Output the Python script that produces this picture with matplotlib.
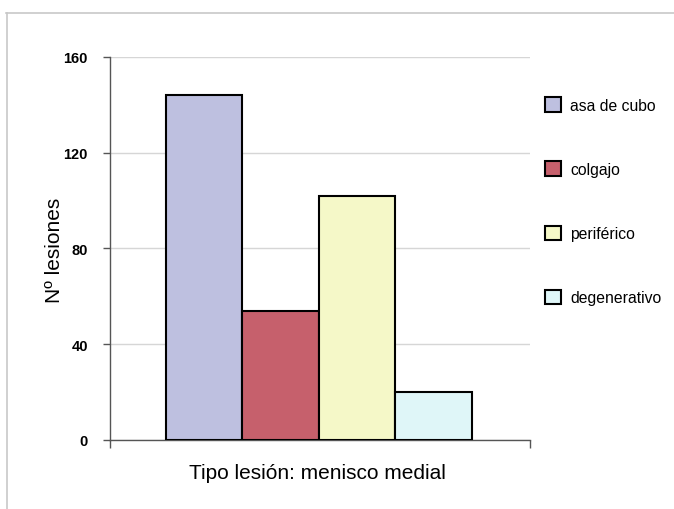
import matplotlib
matplotlib.use("Agg")
import matplotlib.pyplot as plt
from matplotlib.lines import Line2D
import numpy as np

# Lesion types of the medial meniscus and their counts
categories = ["asa de cubo", "colgajo", "periférico", "degenerativo"]
counts = [144, 54, 102, 20]
colors = ["#BEC0E0", "#C6606C", "#F5F8C8", "#DFF6F8"]
y_ticks = [0, 40, 80, 120, 160]

narrow = ["Liberation Sans Narrow", "Liberation Sans", "DejaVu Sans"]
sans = ["Liberation Sans", "DejaVu Sans"]

fig = plt.figure(figsize=(6.74, 5.10), dpi=100)
ax = fig.add_axes([110 / 674, 1 - 441 / 510, 420 / 674, 383 / 510])

x = np.arange(len(categories))
bars = ax.bar(x, counts, width=1.0, color=colors, edgecolor="black",
              linewidth=1.5, zorder=3)

ax.set_xlim(-1.23, 4.26)
ax.set_ylim(0, 160)
ax.set_yticks(y_ticks)
ax.set_yticklabels([str(v) for v in y_ticks], fontfamily=narrow,
                   fontsize=10.5, fontweight="bold")
ax.set_xticks([-1.23, 4.26])
ax.set_xticklabels([])

ax.grid(axis="y", color="#D6D6D6", linewidth=1.0, zorder=0)
for side in ("top", "right"):
    ax.spines[side].set_visible(False)
for side in ("left", "bottom"):
    ax.spines[side].set_color("#555555")
    ax.spines[side].set_linewidth(1.0)
ax.tick_params(axis="y", direction="out", length=5, width=1.0,
               color="#555555", pad=11)
ax.tick_params(axis="x", direction="out", length=6, width=1.0,
               color="#555555")

fig.text(54 / 674, 1 - 250 / 510, "Nº lesiones", rotation=90,
         ha="center", va="center", fontsize=15, fontfamily=sans)
fig.text(317 / 674, 1 - 474 / 510, "Tipo lesión: menisco medial",
         ha="center", va="center", fontsize=15, fontfamily=sans)

fig.legend(bars, categories, loc="upper left",
           bbox_to_anchor=(545 / 674, 1 - 98 / 510),
           frameon=False, prop={"family": sans, "size": 11.3},
           handlelength=1.05, handleheight=1.05, handletextpad=0.55,
           labelspacing=3.1, borderpad=0, borderaxespad=0)

# thin outer frame along the top and left edges
fig.add_artist(Line2D([6 / 674, 1.0], [1 - 14 / 510, 1 - 14 / 510],
                      transform=fig.transFigure, color="#C8C8C8", linewidth=1.2))
fig.add_artist(Line2D([7 / 674, 7 / 674], [0.0, 1 - 14 / 510],
                      transform=fig.transFigure, color="#C8C8C8", linewidth=1.2))

fig.savefig("out.png", dpi=100)
